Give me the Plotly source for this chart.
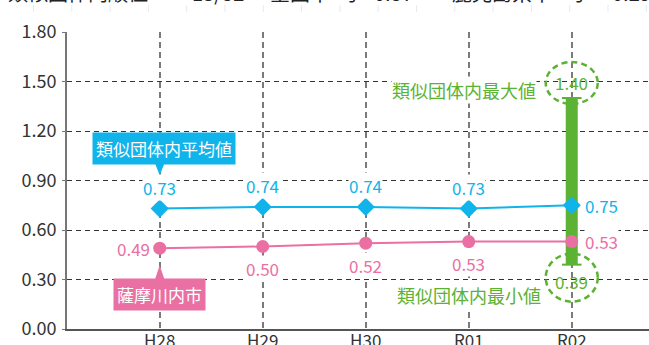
import plotly.graph_objects as go

categories = ["H28", "H29", "H30", "R01", "R02"]
avg_values = [0.73, 0.74, 0.74, 0.73, 0.75]
city_values = [0.49, 0.50, 0.52, 0.53, 0.53]
range_min = 0.39
range_max = 1.40
y_ticks = [0.0, 0.3, 0.6, 0.9, 1.2, 1.5, 1.8]
header_cells = ["類似団体内順位", "13/52", "全国平", "均", "0.57", "鹿児島県平", "均", "0.29"]

BLUE = "#10b4ea"
PINK = "#ea6fa3"
GREEN = "#5cb233"
FONT = "Noto Sans CJK JP"
NUM = 17
JP = 17

x_idx = list(range(len(categories)))
last = x_idx[-1]

fig = go.Figure()

# min-max bar
fig.add_trace(go.Scatter(
    x=[last, last], y=[range_min, range_max], mode="lines+markers",
    line=dict(color=GREEN, width=12),
    marker=dict(symbol="line-ew", size=14, line=dict(color=GREEN, width=2), color=GREEN),
    hoverinfo="skip", showlegend=False))

fig.add_trace(go.Scatter(
    x=x_idx, y=avg_values, mode="lines+markers",
    line=dict(color=BLUE, width=2),
    marker=dict(symbol="diamond", size=14, color=BLUE),
    showlegend=False))

fig.add_trace(go.Scatter(
    x=x_idx, y=city_values, mode="lines+markers",
    line=dict(color=PINK, width=2),
    marker=dict(symbol="circle", size=13, color=PINK),
    showlegend=False))

annotations = []


def lab(x, y, text, color, size=NUM, **kw):
    d = dict(x=x, y=y, xref="x", yref="y", text=text, showarrow=False,
             bgcolor="white", borderpad=0, font=dict(color=color, size=size, family=FONT))
    d.update(kw)
    annotations.append(d)


for i, v in enumerate(avg_values):
    if i == last:
        lab(i, v, f"{v:.2f}", BLUE, xanchor="left", xshift=12)
    else:
        lab(i, v, f"{v:.2f}", BLUE, yshift=21)

for i, v in enumerate(city_values):
    if i == 0:
        lab(i, v, f"{v:.2f}", PINK, xanchor="right", xshift=-9)
    elif i == last:
        lab(i, v, f"{v:.2f}", PINK, xanchor="left", xshift=12)
    else:
        lab(i, v, f"{v:.2f}", PINK, yshift=-22)

# callout boxes
annotations.append(dict(x=0, y=avg_values[0], xref="x", yref="y", text="類似団体内平均値",
                        showarrow=False, yshift=60, xshift=4, bgcolor=BLUE, borderpad=3,
                        font=dict(color="white", size=JP, family=FONT)))
annotations.append(dict(x=0, y=city_values[0], xref="x", yref="y", text="薩摩川内市",
                        showarrow=False, yshift=-46, bgcolor=PINK, borderpad=3,
                        font=dict(color="white", size=JP, family=FONT)))
# min / max labels
lab(last, range_max, f"{range_max:.2f}", GREEN, yshift=16, bgcolor="rgba(0,0,0,0)")
lab(last, range_min, f"{range_min:.2f}", GREEN, yshift=-17, bgcolor="rgba(0,0,0,0)")
lab(last, range_max, "類似団体内最大値", GREEN, size=18, xanchor="right", xshift=-35, yshift=8)
lab(last, range_min, "類似団体内最小値", GREEN, size=18, xanchor="right", xshift=-30, yshift=-30)

# clipped header row
header_x = [6, 190, 268, 335, 372, 450, 562, 610]
for hx, ht in zip(header_x, header_cells):
    annotations.append(dict(x=hx, y=345, xref="paper", yref="paper", text=ht,
                            showarrow=False, xanchor="left", yanchor="bottom",
                            font=dict(color="#222", size=20, family=FONT)))

shapes = []
# faint header cell borders
for k in range(17):
    xp = 33.5 + 38.3 * k
    if xp > 649:
        break
    shapes.append(dict(type="line", xref="paper", yref="paper", x0=xp, x1=xp, y0=0, y1=0,
                       line=dict(color="#e3ebf3", width=1)))

# dashed circles
for yv, dy, ry in [(range_max, 15, 21), (range_min, -13, 24)]:
    shapes.append(dict(type="circle", xref="x", yref="y", xsizemode="pixel", ysizemode="pixel",
                       xanchor=last, yanchor=yv, x0=-26, x1=26, y0=dy - ry, y1=dy + ry,
                       line=dict(color=GREEN, width=2.5, dash="6px,4px")))
# callout pointers
shapes.append(dict(type="path", xref="x", yref="y", xsizemode="pixel", ysizemode="pixel",
                   xanchor=0, yanchor=avg_values[0], path="M -5 46 L 5 46 L 0 33 Z",
                   fillcolor=BLUE, line=dict(width=0)))
shapes.append(dict(type="path", xref="x", yref="y", xsizemode="pixel", ysizemode="pixel",
                   xanchor=0, yanchor=city_values[0], path="M -5 -32 L 5 -32 L 0 -17 Z",
                   fillcolor=PINK, line=dict(width=0)))

W, H = 649, 345
ML, MR, MT, MB = 67, 0, 32, 16
PW, PH = W - ML - MR, H - MT - MB

# convert pixel-based header/border positions to paper coords
for a in annotations:
    if a.get("xref") == "paper":
        a["x"] = (a["x"] - ML) / PW
        a["y"] = 1.0
        a["yshift"] = MT - 9
for s in shapes:
    if s.get("xref") == "paper":
        xp = (s["x0"] - ML) / PW
        s["x0"] = s["x1"] = xp
        s["y0"] = 1 + (MT - 12) / PH
        s["y1"] = 1 + (MT - 5) / PH

fig.update_layout(
    width=W, height=H,
    margin=dict(l=ML, r=MR, t=MT, b=MB, autoexpand=False),
    paper_bgcolor="white", plot_bgcolor="white",
    font=dict(family=FONT, color="#333", size=17),
    annotations=annotations, shapes=shapes,
    xaxis=dict(range=[-0.9, 4.75], tickmode="array", tickvals=x_idx, ticktext=categories,
               showgrid=True, gridcolor="#7a7a7a", griddash="6px,4px", gridwidth=1.6,
               showline=True, linecolor="#555", linewidth=2, ticks="", zeroline=False,
               automargin=False, ticklabelstandoff=-4, tickfont=dict(size=17, color="#333")),
    yaxis=dict(range=[0, 1.8], tickmode="array", tickvals=y_ticks,
               ticktext=[f"{v:.2f}" for v in y_ticks],
               showgrid=True, gridcolor="#333", griddash="5px,4px", gridwidth=1,
               showline=True, linecolor="#777", linewidth=2, ticks="outside", ticklen=3,
               tickcolor="#777", zeroline=False, ticklabelstandoff=2, automargin=False,
               tickfont=dict(size=18, color="#333")),
)

fig.write_html("out.html")
